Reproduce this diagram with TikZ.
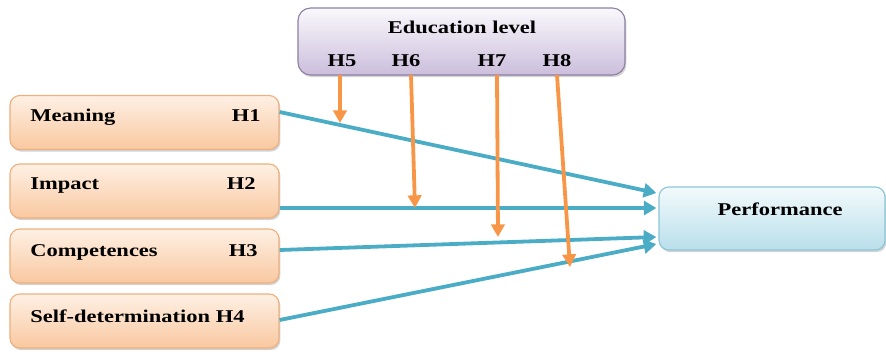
\documentclass[tikz,border=0pt]{standalone}
\usepackage{fontspec}
\setmainfont{Liberation Serif}[FakeStretch=1.25]
\usetikzlibrary{shadows,arrows.meta,calc}
\definecolor{oborder}{HTML}{EDB07E}
\definecolor{otop}{HTML}{FEF0E4}
\definecolor{obot}{HTML}{F9C8A0}
\definecolor{ptop}{HTML}{FAF8FC}
\definecolor{pbot}{HTML}{CBBEDC}
\definecolor{pborder}{HTML}{8E7FA3}
\definecolor{btop}{HTML}{F2FAFC}
\definecolor{bbot}{HTML}{B9DFEA}
\definecolor{bborder}{HTML}{8CC6D8}
\definecolor{barrow}{HTML}{4BACC6}
\definecolor{oarrow}{HTML}{F79646}
\tikzset{
  x=0.025cm, y=-0.025cm,
  obox/.style={draw=oborder, line width=0.8pt, rounded corners=7pt, top color=otop, bottom color=obot,
    minimum width=6.725cm, minimum height=1.35cm, inner sep=0pt,
    drop shadow={shadow xshift=1pt, shadow yshift=-1.5pt, opacity=0.35}},
  pbox/.style={draw=pborder, line width=0.8pt, rounded corners=9pt, top color=ptop, bottom color=pbot,
    minimum width=8.175cm, minimum height=1.675cm, inner sep=0pt,
    drop shadow={shadow xshift=1pt, shadow yshift=-1.5pt, opacity=0.35}},
  bbox/.style={draw=bborder, line width=0.8pt, rounded corners=7pt, top color=btop, bottom color=bbot,
    minimum width=5.65cm, minimum height=1.575cm, inner sep=0pt,
    drop shadow={shadow xshift=1pt, shadow yshift=-1.5pt, opacity=0.35}},
  txt/.style={font=\bfseries\fontsize{12.8}{14}\selectfont, inner sep=0pt},
  barr/.style={draw=barrow, line width=2.7pt, -{Triangle[length=9pt,width=10pt]}},
  oarr/.style={draw=oarrow, line width=2.7pt, -{Triangle[length=9pt,width=9.5pt]}},
}
\begin{document}
\begin{tikzpicture}
\useasboundingbox (0,0) rectangle (886,351);
% boxes
\node[pbox] (edu) at (461.5,41.5) {};
\node[obox] (mean) at (144.5,122.5) {};
\node[obox] (imp) at (144.5,191) {};
\node[obox] (comp) at (144.5,256) {};
\node[obox] (self) at (144.5,321) {};
\node[bbox] (perf) at (772,218.5) {};
% texts
\node[txt, anchor=base] (edut) at (462,33) {Education level};
\node[txt, anchor=base] (h5) at (342,66) {H5};
\node[txt, anchor=base] (h6) at (406,66) {H6};
\node[txt, anchor=base] (h7) at (492,66) {H7};
\node[txt, anchor=base] (h8) at (557,66) {H8};
\node[txt, anchor=base west] (meant) at (30,121) {Meaning};
\node[txt, anchor=base east] (h1) at (261,121) {H1};
\node[txt, anchor=base west] (impt) at (30,189) {Impact};
\node[txt, anchor=base east] (h2) at (256,189) {H2};
\node[txt, anchor=base west] (compt) at (30,256) {Competences};
\node[txt, anchor=base east] (h3) at (258,256) {H3};
\node[txt, anchor=base west] (selft) at (30,322) {Self-determination H4};
\node[txt, anchor=base] (perft) at (780,215) {Performance};
% free ends
\coordinate (e5) at (340,123);
\coordinate (e6) at (415,208);
\coordinate (e7) at (498,237);
\coordinate (e8) at (570,267);
\coordinate (s5) at (340,75);
\coordinate (s6) at (411,75);
\coordinate (s7) at (497,75);
\coordinate (s8) at (557,75);
% blue arrows
\draw[barr] (mean.east |- 0,112) -- ($(perf.west |- 0,193)+(-2,0)$);
\draw[barr] (imp.east |- 0,208) -- ($(perf.west |- 0,208)+(-2,0)$);
\draw[barr] (comp.east |- 0,250) -- ($(perf.west |- 0,237)+(-2,0)$);
\draw[barr] (self.east |- 0,320) -- ($(perf.west |- 0,244)+(-2,0)$);
% orange arrows
\draw[oarr] (s5) -- (e5);
\draw[oarr] (s6) -- (e6);
\draw[oarr] (s7) -- (e7);
\draw[oarr] (s8) -- (e8);
\end{tikzpicture}
\end{document}
